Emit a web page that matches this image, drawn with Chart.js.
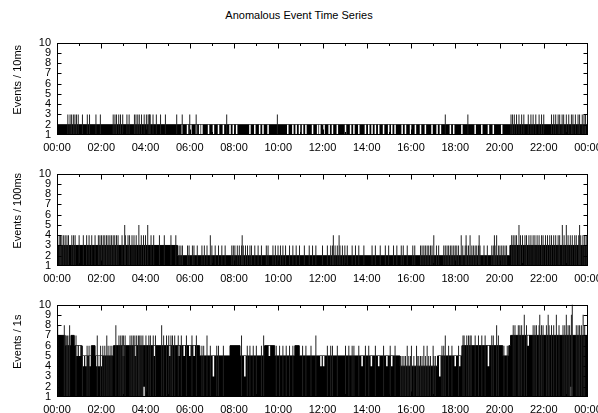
<!DOCTYPE html>
<html>
<head>
<meta charset="utf-8">
<script src="https://cdn.jsdelivr.net/npm/chart.js@4.4.1/dist/chart.umd.min.js"></script>
<style>
  html, body { margin: 0; padding: 0; background: #fff; overflow: hidden; }
  body { width: 598px; height: 413px; position: relative; font-family: "Liberation Sans", Arial, sans-serif; }
  #title { position: absolute; left: 0; top: 9px; width: 598px; text-align: center; font-size: 11px; line-height: 13px; color: #000; }
  canvas { position: absolute; left: 0; }
</style>
</head>
<body>
<div id="title">Anomalous Event Time Series</div>
<canvas id="c1" width="620" height="131" style="top:30px"></canvas>
<canvas id="c2" width="620" height="131" style="top:161px"></canvas>
<canvas id="c3" width="620" height="131" style="top:292px"></canvas>
<script>
// x axis labels, one per 2 hours
const timeLabels = ['00:00', '02:00', '04:00', '06:00', '08:00', '10:00', '12:00',
  '14:00', '16:00', '18:00', '20:00', '22:00', '00:00'];
const yTitles = ['Events / 10ms', 'Events / 100ms', 'Events / 1s'];

// base level steps: [start hour, level]
const p1Base = [[0, 2]];
// spikes: [hour, count]
const p1Spikes = [[0.49,3],[0.59,3],[0.66,3],[0.74,3],[0.81,3],[0.88,3],[0.96,3],[1.15,3],[1.37,3],[1.47,3],
  [1.76,3],[1.96,3],[2.54,3],[2.62,3],[2.69,3],[2.79,3],[2.87,3],[2.97,3],[3.16,3],[3.26,3],[3.5,3],[3.57,3],
  [3.65,3],[3.72,3],[3.82,3],[3.94,3],[4.04,3],[4.12,3],[4.17,3],[4.19,3],[4.21,3],[4.34,3],[4.49,3],[4.68,3],
  [4.9,3],[5.41,3],[5.66,3],[6.0,3],[6.29,3],[7.67,3],[9.96,3],[17.55,3],[18.57,3],[20.52,3],[20.59,3],[20.67,3],
  [20.77,3],[20.88,3],[21.0,3],[21.1,3],[21.3,3],[21.42,3],[21.52,3],[21.64,3],[21.79,3],[21.9,3],[22.0,3],
  [22.35,3],[22.45,3],[22.54,3],[22.65,3],[22.72,3],[22.83,3],[22.9,3],[23.02,3],[23.13,3],[23.25,3],[23.32,3],
  [23.43,3],[23.55,3],[23.62,3],[23.74,3],[23.82,3],[23.89,3]];
// dips below the base level: [hour, low, high]
const p1Gaps = [[5.66,1,2],[5.9,1,2],[6.05,1,2],[6.3,1,2],[6.45,1,2],[6.55,1,2],[6.85,1,2],[7.07,1,2],[7.3,1,2],
  [7.52,1,2],[7.82,1,2],[7.97,1,2],[8.12,1,2],[8.72,1,2],[8.94,1,2],[9.16,1,2],[9.31,1,2],[9.54,1,2],[10.43,1,2],
  [10.66,1,2],[10.81,1,2],[10.96,1,2],[11.1,1,2],[11.25,1,2],[11.55,1,2],[11.78,1,2],[11.88,1,2],[12.07,1,2],
  [12.3,1,2],[12.45,1,2],[12.67,1,2],[13.04,1,2],[13.27,1,2],[13.42,1,2],[13.64,1,2],[13.94,1,2],[14.09,1,2],
  [14.24,1,2],[14.39,1,2],[14.54,1,2],[14.76,1,2],[14.99,1,2],[15.13,1,2],[15.28,1,2],[15.6,1,2],[15.75,1,2],
  [15.98,1,2],[16.2,1,2],[16.43,1,2],[16.65,1,2],[16.95,1,2],[17.18,1,2],[17.33,1,2],[17.78,1,2],[17.93,1,2],
  [18.3,1,2],[18.9,1,2],[19.2,1,2],[19.5,1,2],[19.72,1,2],[20.1,1,2]];

const p2Base = [[0, 3], [5.45, 2], [20.47, 3]];
const p2Spikes = [[0.1,4],[0.16,4],[0.22,4],[0.3,4],[0.37,4],[0.45,4],[0.52,4],[0.67,4],[0.75,4],[0.82,4],
  [1.0,4],[1.19,4],[1.34,4],[1.45,4],[1.57,4],[1.72,4],[1.87,4],[1.94,4],[2.01,4],[2.09,4],[2.16,4],[2.24,4],
  [2.31,4],[2.39,4],[2.46,4],[2.54,4],[2.61,4],[2.69,4],[2.76,4],[2.94,4],[3.06,5],[3.09,4],[3.21,4],[3.28,4],
  [3.39,4],[3.48,4],[3.58,4],[3.7,5],[3.81,4],[3.91,4],[4.0,4],[4.1,5],[4.25,4],[4.37,4],[4.63,4],[4.85,4],
  [5.15,4],[5.37,4],[5.52,3],[5.6,3],[5.67,3],[5.9,3],[5.97,3],[6.12,3],[6.19,3],[6.34,3],[6.55,3],[6.66,3],
  [6.78,3],[6.93,4],[7.0,3],[7.15,3],[7.3,3],[7.45,3],[7.6,3],[7.9,3],[7.97,3],[8.04,3],[8.15,3],[8.24,3],
  [8.34,3],[8.37,4],[8.42,3],[8.52,3],[8.61,3],[8.72,3],[8.79,3],[8.94,3],[9.09,3],[9.24,3],[9.46,3],[9.54,3],
  [9.76,3],[9.87,3],[9.99,3],[10.1,3],[10.21,3],[10.33,3],[10.51,3],[10.66,3],[10.81,3],[10.96,3],[11.18,3],
  [11.4,3],[11.55,3],[11.7,3],[12.0,3],[12.22,3],[12.37,3],[12.45,3],[12.49,4],[12.57,3],[12.67,3],[12.75,4],
  [12.79,3],[12.9,3],[13.01,3],[13.12,3],[13.34,3],[13.49,3],[13.64,3],[13.87,3],[14.24,3],[14.39,3],[14.61,3],
  [14.84,3],[14.99,3],[15.21,3],[15.36,3],[15.56,3],[15.65,3],[15.83,3],[16.08,3],[16.17,3],[16.43,3],[16.5,3],
  [16.58,3],[16.65,3],[16.73,3],[16.8,3],[16.88,3],[16.95,3],[17.03,4],[17.15,3],[17.25,3],[17.48,3],[17.55,3],
  [17.63,3],[17.7,3],[17.78,3],[17.85,3],[17.93,3],[18.0,3],[18.07,3],[18.15,3],[18.27,4],[18.34,3],[18.45,3],
  [18.49,4],[18.52,3],[18.6,3],[18.67,4],[18.75,3],[18.82,3],[18.9,3],[18.97,3],[19.05,3],[19.08,4],[19.12,3],
  [19.3,3],[19.45,3],[19.65,3],[19.72,3],[19.77,4],[19.8,3],[19.87,4],[19.95,3],[20.02,3],[20.1,3],[20.17,3],
  [20.25,3],[20.32,3],[20.55,4],[20.62,4],[20.7,4],[20.77,4],[20.88,5],[20.95,4],[21.04,4],[21.15,4],[21.22,4],
  [21.33,4],[21.42,4],[21.52,4],[21.6,4],[21.7,4],[21.79,4],[21.9,4],[21.97,4],[22.08,4],[22.17,4],[22.27,4],
  [22.35,4],[22.45,4],[22.54,4],[22.65,4],[22.72,4],[22.84,5],[22.92,4],[23.02,5],[23.1,4],[23.2,4],[23.29,4],
  [23.4,4],[23.47,4],[23.58,4],[23.62,5],[23.67,4],[23.77,4],[23.85,4],[23.92,4]];
const p2Gaps = [];

const p3Base = [[0, 7], [0.37, 6], [0.63, 7], [0.78, 6], [1.12, 5], [1.55, 6], [1.72, 5], [2.55, 6], [6.45, 5],
  [7.82, 6], [8.27, 5], [9.38, 6], [9.84, 5], [10.75, 6], [10.95, 5], [15.5, 4], [17.2, 5], [18.3, 6],
  [20.15, 5], [20.42, 6], [20.5, 7]];
const p3Spikes = [[0.03,8],[0.33,8],[0.42,7],[0.48,7],[0.55,7],[0.57,8],[0.86,7],[1.15,6],[1.36,6],[1.45,6],
  [1.82,7],[1.97,6],[2.07,6],[2.16,6],[2.25,7],[2.31,6],[2.4,6],[2.48,6],[2.66,8],[2.8,7],[2.88,7],[2.95,7],
  [3.0,7],[3.08,7],[3.3,7],[3.38,7],[3.45,7],[3.52,7],[3.6,7],[3.68,7],[3.74,7],[3.8,7],[3.88,7],[4.02,7],
  [4.15,7],[4.22,7],[4.35,7],[4.45,7],[4.73,8],[4.82,7],[4.95,7],[5.05,7],[5.15,7],[5.22,7],[5.32,7],[5.48,7],
  [5.62,7],[5.85,7],[6.1,7],[6.3,7],[6.55,6],[6.63,6],[6.78,7],[6.93,6],[7.22,6],[7.3,6],[7.52,6],[8.34,7],
  [8.6,6],[8.72,6],[8.87,6],[9.01,6],[9.24,6],[9.34,7],[9.91,6],[10.06,6],[10.21,6],[10.36,6],[10.51,6],
  [10.66,6],[11.1,6],[11.25,6],[11.48,6],[11.7,7],[12.22,6],[12.37,6],[12.45,6],[12.67,6],[13.04,6],[13.19,6],
  [13.34,6],[13.42,6],[13.64,6],[13.94,6],[14.09,6],[14.39,6],[14.76,6],[15.06,6],[15.28,6],[15.53,5],
  [15.6,5],[15.68,5],[15.75,5],[15.83,6],[15.9,5],[15.98,5],[16.02,6],[16.13,5],[16.25,6],[16.28,5],[16.35,5],
  [16.43,5],[16.5,5],[16.58,6],[16.65,5],[16.73,6],[16.8,5],[16.88,5],[17.0,6],[17.03,5],[17.1,5],[17.4,6],
  [17.48,6],[17.55,7],[17.7,6],[17.85,6],[18.15,6],[18.35,7],[18.4,7],[18.52,7],[18.6,7],[18.67,7],[18.72,7],
  [18.9,7],[19.05,7],[19.2,7],[19.35,7],[19.65,7],[19.72,7],[19.87,8],[19.95,7],[20.2,6],[20.35,6],[20.62,8],
  [20.7,8],[20.85,8],[20.92,8],[21.0,8],[21.12,9],[21.22,8],[21.52,8],[21.6,8],[21.67,8],[21.79,8],[21.82,9],
  [21.9,8],[21.97,8],[22.12,8],[22.2,9],[22.24,8],[22.35,8],[22.45,8],[22.57,9],[22.69,8],[22.87,8],[22.95,8],
  [23.02,9],[23.1,8],[23.17,8],[23.25,9],[23.29,10],[23.47,8],[23.55,8],[23.62,8],[23.7,8],[23.78,9],[23.85,8],
  [23.98,9]];
const p3Gaps = [[0.9,5,6],[1.02,5,6],[1.19,4,5],[1.31,4,5],[1.49,4,5],[1.8,4,5],[1.9,4,5],[2.0,4,5],[3.0,5,6],
  [3.55,5,6],[3.93,1,2],[4.4,5,6],[5.1,5,6],[5.5,5,6],[5.75,5,6],[6.0,5,6],[6.2,5,6],[7.07,3,5],[8.49,3,5],
  [9.6,5,6],[11.93,4,5],[12.05,4,5],[13.79,4,5],[14.21,4,5],[14.54,4,5],[14.91,4,5],[15.13,4,5],[17.3,3,5],
  [18.0,4,5],[18.2,4,5],[19.5,4,6],[21.3,6,7],[23.25,1,2]];

Chart.defaults.font.family = '"Liberation Sans", Arial, sans-serif';
Chart.defaults.font.size = 11;
Chart.defaults.color = '#000';

// gnuplot style frame: border box, inward ticks, rotated y title
const frame = {
  id: 'frame',
  afterDatasetsDraw(chart, args, opts) {
    const { ctx, chartArea: a, scales: { x, y } } = chart;
    const l = Math.round(a.left) + 0.5, r = Math.round(a.right) - 0.5;
    const t = Math.round(a.top) + 0.5, b = Math.round(a.bottom) - 0.5;
    ctx.save();
    ctx.strokeStyle = '#000';
    ctx.lineWidth = 1;
    ctx.strokeRect(l, t, r - l, b - t);
    ctx.beginPath();
    for (let h = 1; h < 24; h++) {
      const px = Math.round(x.getPixelForValue(h)) + 0.5;
      const len = h % 2 ? 2.5 : 5;
      ctx.moveTo(px, t); ctx.lineTo(px, t + len);
      ctx.moveTo(px, b); ctx.lineTo(px, b - len);
    }
    for (let v = 2; v < 10; v++) {
      const py = Math.round(y.getPixelForValue(v)) + 0.5;
      ctx.moveTo(l, py); ctx.lineTo(l + 4, py);
      ctx.moveTo(r, py); ctx.lineTo(r - 4, py);
    }
    ctx.stroke();
    ctx.translate(18, (a.top + a.bottom) / 2 - 9);
    ctx.rotate(-Math.PI / 2);
    ctx.textAlign = 'center';
    ctx.textBaseline = 'middle';
    ctx.fillStyle = '#000';
    ctx.font = '11px "Liberation Sans", Arial, sans-serif';
    ctx.fillText(opts.title, 0, 0);
    ctx.restore();
  }
};

function makeChart(id, title, base, spikes, gaps) {
  const steps = base.map(([x, y]) => ({ x, y }));
  steps.push({ x: 24, y: base[base.length - 1][1] });
  return new Chart(document.getElementById(id), {
    type: 'bar',
    data: {
      datasets: [
        // level holds until the next step point
        { type: 'line', data: steps, stepped: 'before', fill: 'start', backgroundColor: '#000',
          borderColor: '#000', borderWidth: 1, pointRadius: 0, order: 3 },
        { data: gaps.map(([x, lo, hi]) => ({ x, y: [lo, hi] })), backgroundColor: '#fff',
          barThickness: 1.5, inflateAmount: 0, grouped: false, order: 2 },
        { data: spikes.map(([x, v]) => ({ x, y: [1, v] })), backgroundColor: '#222',
          barThickness: 1, inflateAmount: 0, grouped: false, order: 1 }
      ]
    },
    options: {
      responsive: false,
      devicePixelRatio: 1,
      animation: false,
      layout: { padding: { top: 11, right: 32, bottom: 0, left: 0 } },
      plugins: { legend: { display: false }, tooltip: { enabled: false }, frame: { title } },
      scales: {
        x: {
          type: 'linear', min: 0, max: 24, offset: false,
          grid: { display: false, drawTicks: false }, border: { display: false },
          ticks: { stepSize: 2, autoSkip: false, maxRotation: 0, padding: 6,
            callback: v => timeLabels[v / 2] },
          afterFit: s => { s.height = 26; }
        },
        y: {
          min: 1, max: 10,
          grid: { display: false, drawTicks: false }, border: { display: false },
          ticks: { stepSize: 1, autoSkip: false, padding: 6 },
          afterFit: s => { s.width = 57; }
        }
      }
    },
    plugins: [frame]
  });
}

makeChart('c1', yTitles[0], p1Base, p1Spikes, p1Gaps);
makeChart('c2', yTitles[1], p2Base, p2Spikes, p2Gaps);
makeChart('c3', yTitles[2], p3Base, p3Spikes, p3Gaps);
</script>
</body>
</html>
